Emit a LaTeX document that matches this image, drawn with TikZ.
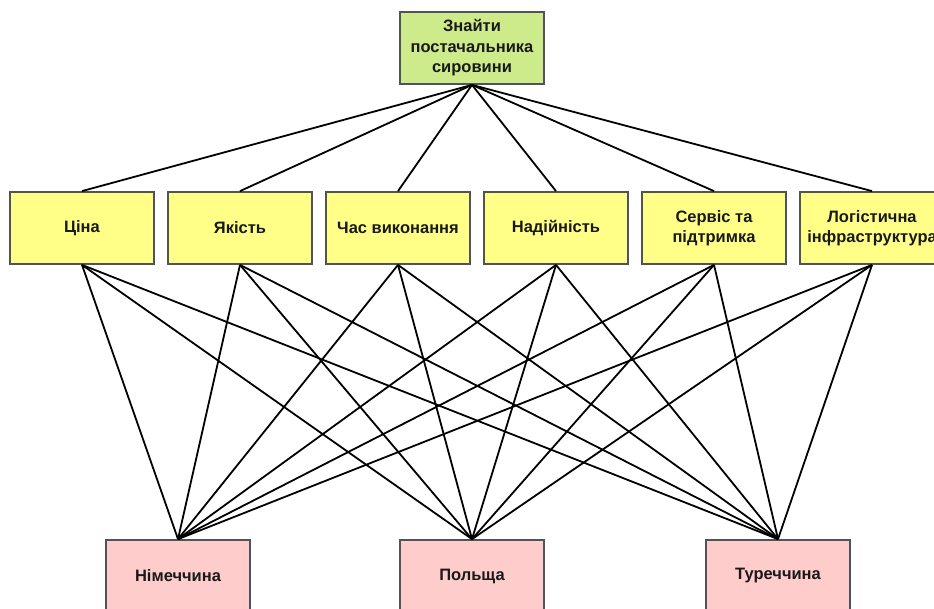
\documentclass[tikz,border=0pt]{standalone}
\usepackage{fontspec}
\setmainfont{Liberation Sans}
\definecolor{goalfill}{HTML}{CDEB8B}
\definecolor{critfill}{HTML}{FFFF88}
\definecolor{altfill}{HTML}{FFCCCC}
\definecolor{boxline}{HTML}{505357}
\begin{document}
\begin{tikzpicture}[x=1pt,y=-1pt,
  box/.style={draw=boxline, line width=1.8pt, minimum width=144pt, minimum height=72pt,
    inner sep=0pt, align=center, font=\fontsize{16.5}{20.5}\selectfont\bfseries, text=black!90},
  goal/.style={box, fill=goalfill},
  crit/.style={box, fill=critfill},
  alt/.style={box, fill=altfill},
  link/.style={line width=1.8pt, black}]
\useasboundingbox (0,0) rectangle (934,608);
\clip (0,0) rectangle (934,608);
\fill[white] (0,0) rectangle (934,608);

% goal
\node[goal] (g) at (472,48) {Знайти\\постачальника\\сировини};

% criteria
\node[crit] (c1) at (82,228)  {Ціна};
\node[crit] (c2) at (240,228) {Якість};
\node[crit] (c3) at (398,228) {Час виконання};
\node[crit] (c4) at (556,228) {Надійність};
\node[crit] (c5) at (714,228) {Сервіс та\\підтримка};
\node[crit] (c6) at (872,228) {Логістична\\інфраструктура};

% alternatives
\node[alt] (a1) at (178,576) {Німеччина};
\node[alt] (a2) at (472,576) {Польща};
\node[alt] (a3) at (778,576) {Туреччина};

% goal to criteria
\foreach \c in {c1,c2,c3,c4,c5,c6}
  \draw[link] (g.south) -- (\c.north);

% criteria to alternatives
\foreach \c in {c1,c2,c3,c4,c5,c6}
  \foreach \a in {a1,a2,a3}
    \draw[link] (\c.south) -- (\a.north);
\end{tikzpicture}
\end{document}
